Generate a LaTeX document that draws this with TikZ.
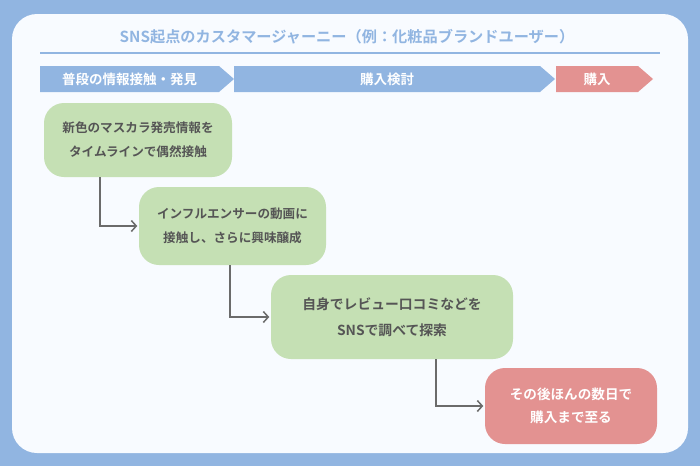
\documentclass[tikz,border=0pt]{standalone}
\usepackage{fontspec}
\setmainfont{Noto Sans CJK JP}[BoldFont={Noto Sans CJK JP Bold}]
\usepackage{xcolor}
\usepackage{tikz}
\usetikzlibrary{arrows.meta,calc}

\definecolor{bgblue}{HTML}{91B5E1}
\definecolor{panelwhite}{HTML}{F8FBFF}
\definecolor{stagered}{HTML}{E39291}
\definecolor{stepgreen}{HTML}{C5E0B4}
\definecolor{txtgray}{HTML}{555555}
\definecolor{linegray}{HTML}{6B6B6B}

\begin{document}
\begin{tikzpicture}[
  x=1pt, y=-1pt,
  card/.style={rounded corners=20pt, align=center, inner sep=0pt,
               fill=stepgreen, text=txtgray,
               font=\fontsize{12.6}{24}\selectfont\bfseries},
  bigcard/.style={card, font=\fontsize{13.8}{26}\selectfont\bfseries},
  stagelbl/.style={text=white, inner sep=0pt,
                   font=\fontsize{13.5}{16}\selectfont\bfseries},
  conn/.style={-{Straight Barb[length=5pt,width=11pt]}, draw=linegray,
               line width=1.5pt, shorten >=1.5pt}
]
% Background and panel
\fill[bgblue] (0,0) rectangle (700,466);
\fill[panelwhite, rounded corners=25pt] (12,14) rectangle (688,453);

% Title
\node[text=bgblue, font=\fontsize{15.2}{18}\selectfont\bfseries] (title) at (347,37)
  {SNS起点のカスタマージャーニー（例：化粧品ブランドユーザー）};
\draw[bgblue, line width=1.5pt] (40,53) -- (660,53);

% Stages
\fill[bgblue] (40,66) -- (219,66) -- (234,79) -- (219,92) -- (40,92) -- cycle;
\fill[bgblue] (234,66) -- (540,66) -- (555,79) -- (540,92) -- (234,92) -- cycle;
\fill[stagered] (556,66) -- (638,66) -- (653,79) -- (638,92) -- (556,92) -- cycle;
\node[stagelbl] (aware) at (129.5,79) {普段の情報接触・発見};
\node[stagelbl] (consider) at (387,79) {購入検討};
\node[stagelbl] (buy) at (597,79) {購入};

% Steps
\node[card, minimum width=188pt, minimum height=74pt] (timeline) at (138,140)
  {新色のマスカラ発売情報を\\タイムラインで偶然接触};
\node[card, minimum width=187pt, minimum height=78pt] (influencer) at (232.5,226)
  {インフルエンサーの動画に\\接触し、さらに興味醸成};
\node[bigcard, minimum width=242pt, minimum height=84pt] (search) at (392,317)
  {自身でレビュー口コミなどを\\SNSで調べて探索};
\node[bigcard, fill=stagered, text=white, minimum width=172pt, minimum height=76pt,
      font=\fontsize{13.6}{23}\selectfont\bfseries]
  (purchase) at (571,406)
  {その後ほんの数日で\\購入まで至る};

% Connectors
\draw[conn] ([xshift=-38pt]timeline.south) |- (influencer.west);
\draw[conn] ([xshift=-2.5pt]influencer.south) |- (search.west);
\draw[conn] ([xshift=44pt]search.south) |- (purchase.west);
\end{tikzpicture}
\end{document}
